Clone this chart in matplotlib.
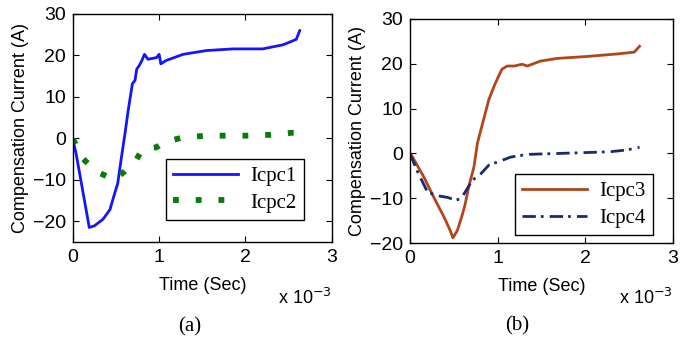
import numpy as np
import matplotlib
matplotlib.use("Agg")
import matplotlib.pyplot as plt

# time in units of 1e-3 s
t1 = [0, 0.04, 0.19, 0.25, 0.35, 0.43, 0.48, 0.52, 0.56, 0.60, 0.64, 0.69, 0.72, 0.74,
      0.77, 0.80, 0.83, 0.87, 0.97, 1.0, 1.02, 1.08, 1.28, 1.55, 1.86, 2.2, 2.44, 2.59, 2.63]
icpc1 = [-0.2, -4, -21.5, -21.1, -19.5, -17.2, -13.6, -10.9, -5, 0.5, 6.5, 13.1, 13.9, 16.6,
         17.5, 18.7, 20.2, 19, 19.4, 20.2, 17.9, 18.7, 20.2, 21.1, 21.5, 21.5, 22.5, 23.8, 25.9]

t2 = [0, 0.12, 0.27, 0.48, 0.6, 0.74, 0.81, 0.97, 1.05, 1.28, 1.55, 2.01, 2.28, 2.54, 2.6]
icpc2 = [-0.2, -5, -8, -10, -8, -5, -2.6, -2.2, -1, 0.2, 0.6, 0.6, 0.8, 1.3, 1.3]

t3 = [0, 0.03, 0.16, 0.27, 0.39, 0.46, 0.49, 0.54, 0.6, 0.63, 0.67, 0.73, 0.77, 0.83, 0.9,
      0.96, 1.02, 1.05, 1.11, 1.19, 1.28, 1.34, 1.49, 1.68, 2.0, 2.37, 2.56, 2.62]
icpc3 = [0, -0.8, -5.3, -9.7, -14.2, -17.2, -18.8, -17.2, -13.5, -11.3, -7.5, -3, 2.3, 6.8, 12,
         15, 17.6, 18.8, 19.5, 19.5, 19.9, 19.5, 20.6, 21.2, 21.6, 22.2, 22.6, 23.9]

t4 = [0, 0.08, 0.2, 0.31, 0.43, 0.52, 0.58, 0.63, 0.71, 0.81, 0.9, 1.0, 1.15, 1.34, 1.68,
      2.0, 2.29, 2.48, 2.62]
icpc4 = [0, -3.8, -8.6, -9.4, -9.8, -10.4, -10.1, -8.6, -6, -4.5, -2.6, -1.9, -0.8, -0.2, 0,
         0.2, 0.4, 0.8, 1.4]

xticks = [0, 1, 2, 3]

fig = plt.figure(figsize=(6.81, 3.44), dpi=100)
sans = 'Liberation Sans'
serif = 'Liberation Serif'

def style(ax, ylim, yticks):
    ax.set_xlim(0, 3)
    ax.set_ylim(*ylim)
    ax.set_xticks(xticks)
    ax.set_yticks(yticks)
    ax.tick_params(direction='in', top=True, right=True, length=4, labelsize=14, pad=5)
    for lab in ax.get_xticklabels() + ax.get_yticklabels():
        lab.set_fontfamily(sans)
    ax.set_xlabel('Time (Sec)', fontsize=13, family=sans, labelpad=8)
    ax.set_ylabel('Compensation Current (A)', fontsize=13, family=sans, labelpad=3)
    ax.text(1.0, -0.20, r'x 10$^{-3}$', transform=ax.transAxes, ha='right', va='top',
            fontsize=13, family=sans)
    for s in ax.spines.values():
        s.set_linewidth(1.0)

def legend(ax, anchor):
    leg = ax.legend(loc='lower right', bbox_to_anchor=anchor, prop={'family': serif, 'size': 15},
                    frameon=True, fancybox=False, edgecolor='black', framealpha=1,
                    handlelength=3.1, borderpad=0.35, labelspacing=0.35, handletextpad=0.6,
                    borderaxespad=0)
    leg.get_frame().set_linewidth(1.0)

ax1 = fig.add_axes([0.107, 0.2965, 0.380, 0.664])
ax1.plot(t1, icpc1, color='#1414ff', lw=2, label='Icpc1')
ax1.plot(t2, icpc2, color='#0a7a0a', lw=4.2, dashes=(1, 2.9), dash_capstyle='butt', label='Icpc2')
style(ax1, (-25, 30), [-20, -10, 0, 10, 20, 30])
legend(ax1, (0.892, 0.096))
fig.text(0.279, 0.035, '(a)', ha='center', fontsize=15, family=serif)

ax2 = fig.add_axes([0.602, 0.293, 0.386, 0.652])
ax2.plot(t3, icpc3, color='#b0461a', lw=2, label='Icpc3')
ax2.plot(t4, icpc4, color='#1a2a6e', lw=2, dashes=(4.8, 1.8, 1, 2.2), label='Icpc4')
style(ax2, (-20, 30), [-20, -10, 0, 10, 20, 30])
legend(ax2, (0.924, 0.036))
fig.text(0.759, 0.04, '(b)', ha='center', fontsize=15, family=serif)

fig.savefig('out.png', dpi=100)
